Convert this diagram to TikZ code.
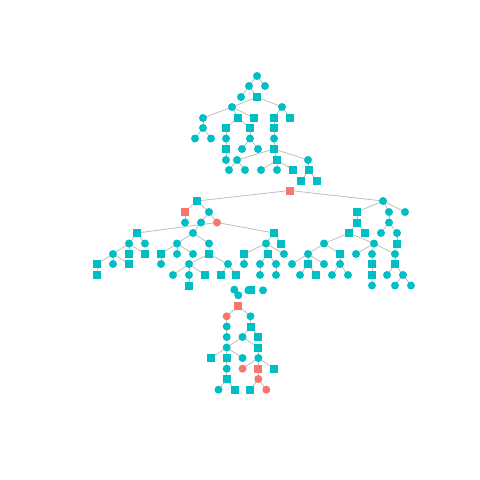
\documentclass[tikz,border=0pt]{standalone}
\usepackage{xcolor}
\definecolor{tealdot}{RGB}{0, 191, 196}
\definecolor{salmondot}{RGB}{248, 118, 109}
\definecolor{edgegray}{RGB}{190, 190, 190}
\usepackage{tikz}
\usetikzlibrary{backgrounds}

\begin{document}
\begin{tikzpicture}[x=1pt, y=-1pt,
    dotc/.style={circle, fill=tealdot, inner sep=0pt, minimum size=8pt},
    dots/.style={rectangle, fill=tealdot, inner sep=0pt, minimum size=8pt},
    redc/.style={circle, fill=salmondot, inner sep=0pt, minimum size=8pt},
    reds/.style={rectangle, fill=salmondot, inner sep=0pt, minimum size=8pt},
    edgeline/.style={draw=edgegray, line width=0.8pt}]
    % Canvas (keeps the white margins)
    \useasboundingbox (0,0) rectangle (480,480);

    % Upper tree
    \foreach \n/\x/\y in {a1/257/76, a2/249/86, a3/265/86, a4/241/97, a6/232/107, a7/282/107,
        a8/203/118, a13/203/128, a17/195/138.5, a18/211/138.5, a19/226/138.5, a20/250/138.5,
        a21/274/138.5, a23/242/149, a24/258/149, a26/226/160, a27/237/160, a29/308/160,
        a30/229/170, a31/245/170, a32/261/170, a33/277/170}
        \node[dotc] (\n) at (\x,\y) {};
    \foreach \n/\x/\y in {a5/257/97, a9/238/118, a10/254/118, a11/274/118, a12/290/118,
        a14/226/128, a15/250/128, a16/274/128, a22/226/149, a25/274/149, a28/277/160,
        a34/293/170, a35/309/170, a36/301/181, a37/317/181}
        \node[dots] (\n) at (\x,\y) {};

    % Middle tree
    \node[reds] (m1) at (290,190.5) {};
    \node[reds] (m4) at (185,212) {};
    \node[redc] (m11) at (217,222.5) {};
    \foreach \n/\x/\y in {m3/383/201, m5/209/212, m7/389/212, m8/405/212, m9/185/222.5,
        m10/201/222.5, m13/389/222.5, m15/193/233, m19/381/233, m20/397/233,
        m21/129/243.5, m22/145/243.5, m23/177/243.5, m24/209/243.5, m25/266/243.5,
        m27/324/243.5, m28/374/243.5, m30/113/254, m34/177/254, m35/193/254, m39/284/254,
        m40/308/254, m42/356/254, m43/372/254, m44/395/254, m46/113/264, m48/161/264,
        m49/189/264, m50/228/264, m51/244/264, m52/260/264, m53/276/264, m54/292/264,
        m56/324/264, m57/340/264, m61/173/275, m62/189/275, m66/260/275, m67/276/275,
        m68/300/275, m70/332/275, m71/348/275, m73/387/275, m74/403/275, m76/372/285.5,
        m77/395/285.5, m78/411/285.5}
        \node[dotc] (\n) at (\x,\y) {};
    \foreach \n/\x/\y in {m2/197/201, m6/357/212, m12/357/222.5, m14/137/233, m16/274/233,
        m17/349/233, m18/365/233, m26/281/243.5, m29/397/243.5, m31/129/254, m32/145/254,
        m33/161/254, m36/209/254, m37/244/254, m38/268/254, m41/340/254, m45/97/264,
        m47/129/264, m55/308/264, m58/372/264, m59/395/264, m60/97/275, m63/205/275,
        m64/221/275, m65/236/275, m69/316/275, m72/372/275, m75/189/285.5}
        \node[dots] (\n) at (\x,\y) {};

    % Loose points
    \foreach \n/\x/\y in {z1/234.3/289.7, z2/238.3/295.3, z3/248.3/290.3}
        \node[dotc] (\n) at (\x,\y) {};
    \node[dots] (z4) at (250.7,290.3) {};
    \node[dotc] (z5) at (263,290.3) {};

    % Lower tree
    \foreach \n/\x/\y in {b1/238.3/305.7, b17/258.3/368.7}
        \node[reds] (\n) at (\x,\y) {};
    \foreach \n/\x/\y in {b2/226.7/316.3, b16/242.5/368.7, b20/258.3/379, b24/266.3/389.7}
        \node[redc] (\n) at (\x,\y) {};
    \foreach \n/\x/\y in {b3/250.5/316.3, b4/226.7/326.5, b6/226.7/337, b7/242.5/337,
        b9/226.7/347.5, b13/242.5/358, b14/258.3/358, b15/226.7/368.7, b21/218.5/389.7}
        \node[dotc] (\n) at (\x,\y) {};
    \foreach \n/\x/\y in {b5/250.5/326.5, b8/258.3/337, b10/258.3/347.5, b11/211/358,
        b12/226.7/358, b18/274/368.7, b19/226.7/379, b22/234.5/389.7, b23/250.3/389.7}
        \node[dots] (\n) at (\x,\y) {};

    % Edges (behind the points)
    \begin{scope}[on background layer]
        \foreach \u/\v in {a1/a2, a1/a3, a2/a4, a2/a5, a5/a6, a5/a7, a6/a8, a6/a9, a6/a10,
            a7/a11, a7/a12, a8/a13, a13/a17, a13/a18, a9/a14, a9/a15, a14/a19, a19/a22,
            a22/a26, a15/a20, a20/a23, a20/a24, a11/a16, a16/a21, a21/a25, a25/a27,
            a25/a28, a25/a29, a27/a30, a27/a31, a28/a32, a28/a33, a28/a34, a29/a35,
            a35/a36, a35/a37}
            \draw[edgeline] (\u.center) -- (\v.center);
        \foreach \u/\v in {m1/m2, m1/m3, m2/m4, m2/m5, m4/m9, m5/m10, m5/m11, m11/m14,
            m11/m16, m10/m15, m3/m6, m3/m7, m3/m8, m6/m12, m12/m17, m12/m18, m7/m13,
            m13/m19, m13/m20, m14/m21, m14/m22, m21/m30, m21/m31, m21/m32, m30/m45,
            m30/m46, m30/m47, m45/m60, m15/m23, m15/m24, m23/m33, m23/m34, m23/m35,
            m33/m48, m24/m36, m36/m49, m36/m50, m49/m61, m49/m62, m49/m63, m62/m75,
            m50/m64, m50/m65, m16/m25, m16/m26, m25/m37, m25/m38, m25/m39, m37/m51,
            m38/m52, m38/m53, m52/m66, m53/m67, m17/m27, m17/m28, m27/m40, m27/m41,
            m40/m54, m40/m55, m40/m56, m55/m68, m55/m69, m41/m57, m57/m70, m57/m71,
            m28/m42, m28/m43, m28/m44, m43/m58, m58/m72, m72/m76, m44/m59, m59/m73,
            m59/m74, m74/m77, m74/m78, m20/m29}
            \draw[edgeline] (\u.center) -- (\v.center);
        \foreach \u/\v in {b1/b2, b1/b3, b2/b4, b4/b6, b3/b5, b5/b7, b5/b8, b7/b9, b7/b10,
            b9/b11, b9/b12, b9/b13, b12/b15, b15/b19, b19/b21, b19/b22, b10/b14, b14/b16,
            b14/b17, b14/b18, b17/b20, b20/b23, b20/b24}
            \draw[edgeline] (\u.center) -- (\v.center);
    \end{scope}

\end{tikzpicture}
\end{document}
